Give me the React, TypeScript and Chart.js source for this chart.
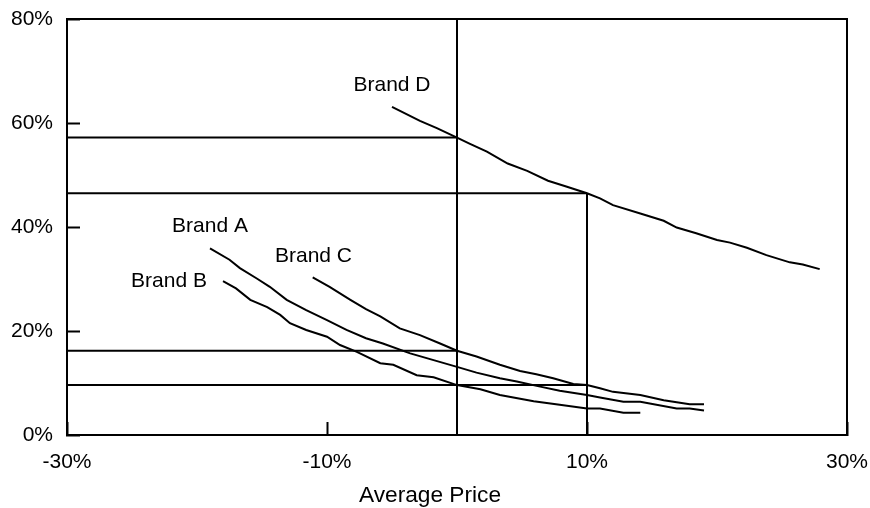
import React, { useEffect, useRef } from "react";
import { Chart, registerables } from "chart.js";

Chart.register(...registerables);

// ---- data ----
const brandAPrice = [-19.0, -17.5, -16.7, -15.4, -14.4, -13.1, -11.6, -10.0, -8.5, -7.0, -5.7, -3.6, -1.8, 0.0, 1.5, 3.3, 4.6, 6.4, 7.9, 10.0, 11.0, 12.8, 14.1, 16.9, 17.9, 19.0];
const brandAShare = [35.9, 33.7, 32.1, 30.1, 28.5, 26.0, 24.0, 22.1, 20.2, 18.6, 17.6, 15.7, 14.4, 13.1, 12.0, 10.9, 10.3, 9.3, 8.5, 7.7, 7.2, 6.4, 6.4, 5.1, 5.1, 4.7];

const brandBPrice = [-18.0, -17.0, -15.9, -14.6, -13.6, -12.85, -11.6, -10.0, -9.0, -7.7, -5.9, -4.9, -3.1, -1.8, 0.0, 1.8, 3.3, 5.9, 7.9, 10.0, 11.0, 12.8, 14.1];
const brandBShare = [29.6, 28.2, 26.0, 24.6, 23.1, 21.5, 20.2, 18.9, 17.3, 16.0, 13.8, 13.5, 11.5, 11.1, 9.6, 8.8, 7.7, 6.5, 5.8, 5.1, 5.1, 4.3, 4.3];

const brandCPrice = [-11.1, -9.8, -8.2, -7.0, -5.9, -4.4, -2.85, -1.3, 0.0, 1.5, 3.3, 4.85, 6.1, 7.4, 8.95, 10.0, 11.0, 12.0, 14.1, 15.9, 17.9, 19.0];
const brandCShare = [30.3, 28.5, 26.0, 24.2, 22.8, 20.5, 19.2, 17.6, 16.2, 15.1, 13.5, 12.3, 11.7, 10.9, 9.8, 9.6, 9.0, 8.3, 7.7, 6.7, 5.9, 5.9];

const brandDPrice = [-5.0, -2.85, -1.55, 0.0, 1.0, 2.3, 3.9, 5.4, 7.0, 8.4, 10.0, 11.0, 12.0, 14.1, 15.9, 16.9, 18.4, 20.0, 21.0, 22.3, 23.8, 25.6, 26.6, 27.9];
const brandDShare = [63.1, 60.4, 59.0, 57.2, 56.0, 54.5, 52.2, 50.8, 48.9, 47.8, 46.5, 45.5, 44.2, 42.6, 41.2, 39.9, 38.8, 37.5, 37.0, 36.0, 34.6, 33.2, 32.8, 31.9];

// guide lines (reading values off curves)
const guideShare = [57.2, 46.5, 16.2, 9.6];
const guideShareEndPrice = [0, 10, 0, 10];
const guidePrice = [0, 10];
const guidePriceTopShare = [80, 46.5];

// brand label anchors (data units)
const brandNames = ["Brand A", "Brand B", "Brand C", "Brand D"];
const brandLabelPrice = [-19.0, -22.15, -11.04, -5.0];
const brandLabelShare = [40.2, 29.6, 34.4, 67.3];

const xMin = -30;
const xMax = 30;
const xStep = 20;
const yMin = 0;
const yMax = 80;
const yStep = 20;
const xTitle = "Average Price";

const FONT = '"Liberation Sans", Arial, sans-serif';

function zip(xs: number[], ys: number[]) {
  return xs.map((x, i) => ({ x, y: ys[i] }));
}

export default function App() {
  const ref = useRef<HTMLCanvasElement | null>(null);

  useEffect(() => {
    if (!ref.current) return;

    const curve = (data: { x: number; y: number }[]) => ({
      data,
      showLine: true,
      borderColor: "#000",
      borderWidth: 2,
      pointRadius: 0,
      tension: 0,
      fill: false,
    });
    const guide = (data: { x: number; y: number }[]) => ({
      data,
      showLine: true,
      borderColor: "#000",
      borderWidth: 2,
      pointRadius: 0,
      tension: 0,
      fill: false,
    });

    const datasets: any[] = [];
    guideShare.forEach((s, i) => {
      datasets.push(guide([{ x: xMin, y: s }, { x: guideShareEndPrice[i], y: s }]));
    });
    guidePrice.forEach((p, i) => {
      datasets.push(guide([{ x: p, y: yMin }, { x: p, y: guidePriceTopShare[i] }]));
    });
    datasets.push(curve(zip(brandAPrice, brandAShare)));
    datasets.push(curve(zip(brandBPrice, brandBShare)));
    datasets.push(curve(zip(brandCPrice, brandCShare)));
    datasets.push(curve(zip(brandDPrice, brandDShare)));

    const framePlugin = {
      id: "frameAndLabels",
      afterDraw(chart: any) {
        const { ctx, chartArea, scales } = chart;
        ctx.save();
        ctx.strokeStyle = "#000";
        ctx.lineWidth = 2;
        ctx.beginPath();
        ctx.moveTo(chartArea.left, chartArea.top);
        ctx.lineTo(chartArea.right, chartArea.top);
        ctx.lineTo(chartArea.right, chartArea.bottom);
        ctx.stroke();

        ctx.fillStyle = "#000";
        ctx.font = `21px ${FONT}`;
        ctx.textAlign = "center";
        ctx.textBaseline = "middle";
        brandNames.forEach((n, i) => {
          ctx.fillText(
            n,
            scales.x.getPixelForValue(brandLabelPrice[i]),
            scales.y.getPixelForValue(brandLabelShare[i])
          );
        });

        ctx.font = `22.7px ${FONT}`;
        ctx.fillText(xTitle, (chartArea.left + chartArea.right) / 2 - 27, 496);
        ctx.restore();
      },
    };

    const zeroPad = (s: any) => {
      s.paddingTop = 0;
      s.paddingBottom = 0;
      s.paddingLeft = 0;
      s.paddingRight = 0;
    };

    const chart = new Chart(ref.current, {
      type: "scatter",
      data: { datasets },
      options: {
        animation: false,
        responsive: false,
        events: [],
        layout: { padding: { left: 0, right: 23, top: 19, bottom: 0 } },
        plugins: {
          legend: { display: false },
          tooltip: { enabled: false },
          title: { display: false },
        },
        scales: {
          x: {
            type: "linear",
            min: xMin,
            max: xMax,
            afterFit: (s: any) => {
              s.height = 73;
              zeroPad(s);
            },
            ticks: {
              stepSize: xStep,
              color: "#000",
              font: { family: FONT, size: 21 },
              padding: 28,
              maxRotation: 0,
              autoSkip: false,
              callback: (v: any) => `${v}%`,
            },
            grid: {
              drawOnChartArea: false,
              drawTicks: true,
              tickLength: -13,
              tickWidth: 2,
              tickColor: "#000",
            },
            border: { display: true, color: "#000", width: 2 },
          },
          y: {
            type: "linear",
            min: yMin,
            max: yMax,
            afterFit: (s: any) => {
              s.width = 67;
              zeroPad(s);
            },
            ticks: {
              stepSize: yStep,
              color: "#000",
              font: { family: FONT, size: 21 },
              padding: 27,
              callback: (v: any) => `${v}%`,
            },
            grid: {
              drawOnChartArea: false,
              drawTicks: true,
              tickLength: -13,
              tickWidth: 2,
              tickColor: "#000",
            },
            border: { display: true, color: "#000", width: 2 },
          },
        },
      },
      plugins: [framePlugin],
    } as any);

    return () => chart.destroy();
  }, []);

  return (
    <div style={{ position: "fixed", left: 0, top: 0, width: 870, height: 508, background: "#fff" }}>
      <canvas ref={ref} width={870} height={508} style={{ display: "block", width: 870, height: 508 }} />
    </div>
  );
}
